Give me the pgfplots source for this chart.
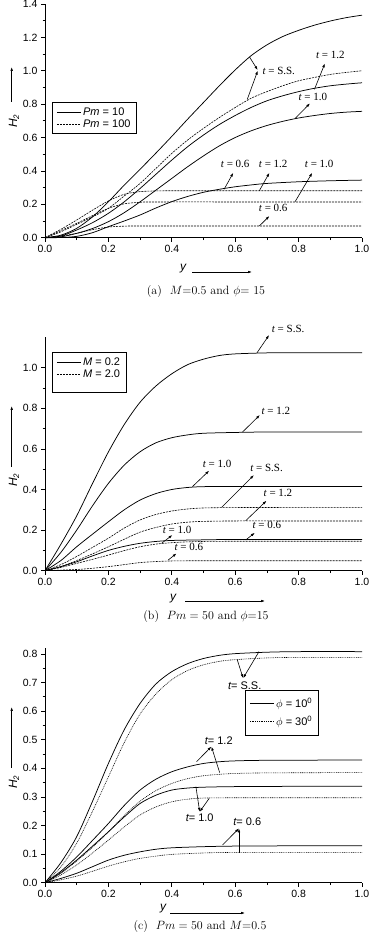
\documentclass[border=0pt]{standalone}
\usepackage{pgfplots}
\pgfplotsset{compat=1.18}
\usepackage{fontspec}
\usetikzlibrary{arrows.meta}
\newfontfamily\arial{Liberation Sans}
\newfontfamily\tms{Liberation Serif}
\pgfplotsset{
  myax/.style={
    scale only axis, width=317pt, xmin=0, xmax=1, ymin=0,
    axis x line=bottom, axis y line=left, axis line style={-, line width=0.8pt},
    tick align=outside, major tick length=4pt, minor tick length=2.5pt,
    tick style={line width=0.7pt, black},
    xtick={0,0.2,0.4,0.6,0.8,1}, minor x tick num=1, minor y tick num=1,
    xticklabel style={/pgf/number format/.cd,fixed,fixed zerofill,precision=1},
    yticklabel style={/pgf/number format/.cd,fixed,fixed zerofill,precision=1},
    ticklabel style={font=\fontsize{10.5}{12}\arial},
    /pgf/number format/assume math mode=true,
    clip=false, anchor=south west,
    legend cell align=left,
    legend style={font=\fontsize{11}{13}\arial, draw=black, line width=0.9pt,
      anchor=north west, inner xsep=4pt, inner ysep=3pt, row sep=-1pt},
    legend image code/.code={\draw[#1, line width=0.7pt] (0pt,0pt) -- (24pt,0pt);},
  },
  sol/.style={black, line width=0.75pt, smooth, no markers, forget plot},
  das/.style={black, line width=0.6pt, smooth, no markers, forget plot, dash pattern=on 2pt off 1pt},
  dot/.style={black, line width=0.6pt, smooth, no markers, forget plot, dash pattern=on 0.9pt off 0.9pt},
}
\tikzset{ar/.style={-{Latex[length=4pt,width=2.6pt]}, line width=0.6pt}}
\newcommand{\tl}[1]{{\fontsize{11}{12}\tms{\itshape t} = #1}}
\newcommand{\ta}[1]{{\fontsize{11}{12}\arial{\itshape t}= #1}}
\begin{document}
\begin{tikzpicture}
\path[use as bounding box] (0pt,0pt) rectangle (368pt,936pt);
% ---------------- (a)
\begin{axis}[myax, at={(45pt,698.3pt)}, height=233.7pt, ymax=1.4,
  ytick={0,0.2,0.4,0.6,0.8,1.0,1.2,1.4},
  legend style={at={(axis description cs:0.022,0.581)}}]
\addlegendimage{black}\addlegendentry{{\itshape Pm} = 10}
\addlegendimage{black, dash pattern=on 2pt off 1pt}\addlegendentry{{\itshape Pm} = 100}
\addplot[sol] coordinates {(0,0)(0.05,0.015)(0.1,0.056)(0.15,0.125)(0.2,0.215)(0.25,0.315)(0.3,0.41)(0.35,0.507)(0.4,0.607)(0.45,0.71)(0.5,0.81)(0.55,0.91)(0.6,1.005)(0.65,1.09)(0.7,1.155)(0.75,1.205)(0.8,1.242)(0.85,1.273)(0.9,1.298)(0.95,1.318)(1.0,1.333)};
\addplot[sol] coordinates {(0,0)(0.05,0.01)(0.1,0.046)(0.15,0.09)(0.2,0.146)(0.25,0.215)(0.3,0.295)(0.35,0.38)(0.4,0.465)(0.45,0.545)(0.5,0.615)(0.55,0.678)(0.6,0.732)(0.65,0.78)(0.7,0.82)(0.75,0.85)(0.8,0.875)(0.85,0.895)(0.9,0.91)(0.95,0.92)(1.0,0.928)};
\addplot[sol] coordinates {(0,0)(0.05,0.005)(0.1,0.026)(0.15,0.055)(0.2,0.096)(0.25,0.15)(0.3,0.215)(0.35,0.285)(0.4,0.355)(0.45,0.425)(0.5,0.49)(0.55,0.55)(0.6,0.60)(0.65,0.64)(0.7,0.672)(0.75,0.697)(0.8,0.717)(0.85,0.732)(0.9,0.744)(0.95,0.752)(1.0,0.757)};
\addplot[sol] coordinates {(0,0)(0.05,0.001)(0.1,0.008)(0.15,0.03)(0.2,0.066)(0.25,0.1)(0.3,0.136)(0.35,0.178)(0.4,0.216)(0.45,0.247)(0.5,0.272)(0.55,0.29)(0.6,0.305)(0.65,0.316)(0.7,0.325)(0.8,0.335)(0.9,0.341)(1.0,0.345)};
\addplot[das] coordinates {(0,0)(0.05,0.035)(0.1,0.08)(0.15,0.125)(0.2,0.176)(0.25,0.25)(0.3,0.325)(0.35,0.415)(0.4,0.505)(0.45,0.585)(0.5,0.655)(0.55,0.72)(0.6,0.78)(0.65,0.835)(0.7,0.875)(0.75,0.91)(0.8,0.94)(0.85,0.96)(0.9,0.978)(0.95,0.99)(1.0,1.0)};
\addplot[das] coordinates {(0,0)(0.05,0.05)(0.1,0.106)(0.15,0.165)(0.2,0.22)(0.25,0.26)(0.3,0.276)(0.35,0.28)(0.4,0.281)(0.7,0.281)(1,0.281)};
\addplot[das] coordinates {(0,0)(0.05,0.042)(0.1,0.086)(0.15,0.132)(0.2,0.176)(0.25,0.203)(0.3,0.212)(0.35,0.214)(0.7,0.214)(1,0.214)};
\addplot[das] coordinates {(0,0)(0.05,0.01)(0.1,0.026)(0.15,0.048)(0.2,0.064)(0.25,0.069)(0.3,0.07)(0.6,0.07)(1,0.07)};
\draw[ar] (axis cs:0.645,1.083) -- (axis cs:0.671,1.004);
\draw[ar] (axis cs:0.638,0.828) -- (axis cs:0.671,1.0);
\node[anchor=west] at (axis cs:0.675,1.0) {\tl{S.S.}};
\draw[ar] (axis cs:0.85,0.889) -- (axis cs:0.883,1.044);
\node at (axis cs:0.9,1.094) {\tl{1.2}};
\draw[ar] (axis cs:0.789,0.714) -- (axis cs:0.836,0.805);
\node at (axis cs:0.845,0.845) {\tl{1.0}};
\draw[ar] (axis cs:0.565,0.29) -- (axis cs:0.594,0.389);
\node at (axis cs:0.6,0.441) {\tl{0.6}};
\draw[ar] (axis cs:0.676,0.281) -- (axis cs:0.708,0.389);
\node at (axis cs:0.72,0.441) {\tl{1.2}};
\draw[ar] (axis cs:0.789,0.216) -- (axis cs:0.843,0.389);
\node at (axis cs:0.865,0.441) {\tl{1.0}};
\draw[ar] (axis cs:0.676,0.07) -- (axis cs:0.708,0.13);
\node at (axis cs:0.72,0.176) {\tl{0.6}};
\end{axis}
\node[font=\fontsize{12}{14}\arial\itshape] at (183pt,667pt) {y};
\draw[-{Latex[length=4pt,width=2.6pt]}, line width=0.6pt] (192pt,664pt) -- (252pt,664pt);
\node[font=\fontsize{12}{14}\arial\itshape, rotate=90] at (14pt,815pt) {H\textsubscript{2}};
\draw[-{Latex[length=4pt,width=2.6pt]}, line width=0.6pt] (11.7pt,834pt) -- (11.7pt,869pt);
\node[font=\fontsize{12}{14}\selectfont] at (206pt,644pt) {(a)~~$M$=0.5 and $\phi$= 15};
% ---------------- (b)
\begin{axis}[myax, at={(45pt,365.3pt)}, height=233.45pt, ymax=1.15,
  ytick={0,0.2,0.4,0.6,0.8,1.0},
  legend style={at={(axis description cs:0.022,0.937)}}]
\addlegendimage{black}\addlegendentry{{\itshape M} = 0.2}
\addlegendimage{black, dash pattern=on 2pt off 1pt}\addlegendentry{{\itshape M} = 2.0}
\addlegendimage{empty legend}\addlegendentry{}
\addlegendimage{empty legend}\addlegendentry{}
\addplot[sol] coordinates {(0,0)(0.05,0.13)(0.1,0.27)(0.15,0.43)(0.2,0.585)(0.25,0.72)(0.3,0.83)(0.35,0.91)(0.4,0.97)(0.45,1.015)(0.5,1.042)(0.55,1.06)(0.6,1.068)(0.7,1.073)(0.8,1.074)(1,1.074)};
\addplot[sol] coordinates {(0,0)(0.05,0.09)(0.1,0.2)(0.15,0.32)(0.2,0.43)(0.25,0.52)(0.3,0.586)(0.35,0.63)(0.4,0.655)(0.45,0.669)(0.5,0.677)(0.6,0.681)(0.7,0.683)(1,0.683)};
\addplot[sol] coordinates {(0,0)(0.05,0.05)(0.1,0.118)(0.15,0.18)(0.2,0.241)(0.25,0.3)(0.3,0.348)(0.35,0.38)(0.4,0.4)(0.45,0.41)(0.5,0.414)(0.6,0.415)(0.8,0.415)(1,0.415)};
\addplot[sol] coordinates {(0,0)(0.05,0.02)(0.1,0.044)(0.15,0.073)(0.2,0.10)(0.25,0.12)(0.3,0.135)(0.35,0.144)(0.4,0.149)(0.5,0.152)(0.6,0.154)(0.8,0.154)(1,0.154)};
\addplot[das] coordinates {(0,0)(0.05,0.03)(0.1,0.07)(0.15,0.115)(0.2,0.16)(0.25,0.21)(0.3,0.25)(0.35,0.277)(0.4,0.294)(0.45,0.304)(0.5,0.309)(0.6,0.311)(0.8,0.311)(1,0.311)};
\addplot[das] coordinates {(0,0)(0.05,0.02)(0.1,0.05)(0.15,0.083)(0.2,0.118)(0.25,0.155)(0.3,0.19)(0.35,0.213)(0.4,0.23)(0.45,0.239)(0.5,0.243)(0.6,0.245)(0.8,0.245)(1,0.245)};
\addplot[das] coordinates {(0,0)(0.05,0.016)(0.1,0.036)(0.15,0.056)(0.2,0.077)(0.25,0.099)(0.3,0.118)(0.35,0.131)(0.4,0.138)(0.45,0.142)(0.5,0.144)(0.6,0.145)(0.8,0.145)(1,0.145)};
\addplot[das] coordinates {(0,0)(0.1,0.006)(0.15,0.012)(0.2,0.02)(0.25,0.03)(0.3,0.04)(0.35,0.045)(0.4,0.048)(0.5,0.049)(0.8,0.049)(1,0.049)};
\draw[ar] (axis cs:0.669,1.074) -- (axis cs:0.707,1.161);
\node at (axis cs:0.767,1.189) {\tl{S.S.}};
\draw[ar] (axis cs:0.623,0.683) -- (axis cs:0.678,0.767);
\node at (axis cs:0.728,0.788) {\tl{1.2}};
\draw[ar] (axis cs:0.465,0.414) -- (axis cs:0.518,0.493);
\node at (axis cs:0.543,0.525) {\tl{1.0}};
\draw[ar] (axis cs:0.557,0.312) -- (axis cs:0.659,0.471);
\node at (axis cs:0.699,0.504) {\tl{S.S.}};
\draw[ar] (axis cs:0.633,0.246) -- (axis cs:0.699,0.345);
\node at (axis cs:0.735,0.381) {\tl{1.2}};
\draw[ar] (axis cs:0.633,0.151) -- (axis cs:0.662,0.187);
\node at (axis cs:0.70,0.225) {\tl{0.6}};
\draw[ar] (axis cs:0.368,0.135) -- (axis cs:0.402,0.176);
\node at (axis cs:0.417,0.2) {\tl{1.0}};
\draw[ar] (axis cs:0.389,0.053) -- (axis cs:0.415,0.085);
\node at (axis cs:0.454,0.115) {\tl{0.6}};
\end{axis}
\node[font=\fontsize{12}{14}\arial\itshape] at (173pt,337pt) {y};
\draw[-{Latex[length=4pt,width=2.6pt]}, line width=0.6pt] (185pt,335pt) -- (265pt,335pt);
\node[font=\fontsize{12}{14}\arial\itshape, rotate=90] at (14pt,456pt) {H\textsubscript{2}};
\draw[-{Latex[length=4pt,width=2.6pt]}, line width=0.6pt] (11.7pt,469pt) -- (11.7pt,530pt);
\node[font=\fontsize{12}{14}\selectfont] at (206pt,319pt) {(b)~~$Pm=50$ and $\phi$=15};
% ---------------- (c)
\begin{axis}[myax, at={(45pt,53.3pt)}, height=234.5pt, ymax=0.82,
  ytick={0,0.1,0.2,0.3,0.4,0.5,0.6,0.7,0.8},
  legend style={at={(axis description cs:0.631,0.822)}, inner ysep=6pt, row sep=3pt}]
\addlegendimage{black}\addlegendentry{$\phi$ = 10\textsuperscript{0}}
\addlegendimage{black, dash pattern=on 0.9pt off 0.9pt}\addlegendentry{$\phi$ = 30\textsuperscript{0}}
\addplot[sol] coordinates {(0,0)(0.05,0.07)(0.1,0.161)(0.15,0.285)(0.2,0.417)(0.25,0.535)(0.3,0.627)(0.35,0.695)(0.4,0.738)(0.45,0.766)(0.5,0.784)(0.55,0.795)(0.6,0.801)(0.7,0.806)(0.8,0.808)(1,0.808)};
\addplot[dot] coordinates {(0,0)(0.05,0.055)(0.1,0.138)(0.15,0.25)(0.2,0.37)(0.25,0.49)(0.3,0.59)(0.35,0.66)(0.4,0.71)(0.45,0.742)(0.5,0.762)(0.55,0.774)(0.6,0.78)(0.7,0.786)(0.8,0.788)(1,0.788)};
\addplot[sol] coordinates {(0,0)(0.05,0.04)(0.1,0.09)(0.15,0.148)(0.2,0.207)(0.25,0.27)(0.3,0.324)(0.35,0.362)(0.4,0.388)(0.45,0.405)(0.5,0.417)(0.55,0.423)(0.6,0.426)(0.7,0.428)(1,0.429)};
\addplot[dot] coordinates {(0,0)(0.05,0.033)(0.1,0.076)(0.15,0.124)(0.2,0.178)(0.25,0.235)(0.3,0.285)(0.35,0.322)(0.4,0.347)(0.45,0.364)(0.5,0.374)(0.55,0.379)(0.6,0.382)(0.7,0.384)(1,0.385)};
\addplot[sol] coordinates {(0,0)(0.05,0.035)(0.1,0.079)(0.15,0.128)(0.2,0.178)(0.25,0.23)(0.3,0.277)(0.35,0.306)(0.4,0.324)(0.45,0.331)(0.5,0.334)(0.6,0.336)(0.8,0.337)(1,0.337)};
\addplot[dot] coordinates {(0,0)(0.05,0.027)(0.1,0.062)(0.15,0.104)(0.2,0.149)(0.25,0.195)(0.3,0.237)(0.35,0.265)(0.4,0.283)(0.45,0.292)(0.5,0.296)(0.6,0.297)(0.8,0.297)(1,0.297)};
\addplot[sol] coordinates {(0,0)(0.05,0.015)(0.1,0.033)(0.15,0.056)(0.2,0.079)(0.25,0.096)(0.3,0.108)(0.35,0.117)(0.4,0.122)(0.5,0.126)(0.6,0.128)(0.8,0.129)(1,0.129)};
\addplot[dot] coordinates {(0,0)(0.05,0.01)(0.1,0.023)(0.15,0.04)(0.2,0.058)(0.25,0.073)(0.3,0.085)(0.35,0.093)(0.4,0.099)(0.5,0.104)(0.6,0.106)(0.8,0.106)(1,0.106)};
\draw[ar] (axis cs:0.606,0.781) -- (axis cs:0.625,0.715);
\draw[ar] (axis cs:0.675,0.808) -- (axis cs:0.625,0.715);
\node at (axis cs:0.63,0.69) {\ta{S.S.}};
\draw[ar] (axis cs:0.478,0.423) -- (axis cs:0.525,0.476);
\draw[ar] (axis cs:0.551,0.385) -- (axis cs:0.525,0.476);
\node at (axis cs:0.548,0.497) {\ta{1.2}};
\draw[ar] (axis cs:0.476,0.336) -- (axis cs:0.488,0.248);
\draw[ar] (axis cs:0.518,0.295) -- (axis cs:0.488,0.248);
\node at (axis cs:0.488,0.228) {\ta{1.0}};
\draw[ar] (axis cs:0.56,0.132) -- (axis cs:0.612,0.19);
\draw[ar] (axis cs:0.612,0.105) -- (axis cs:0.612,0.19);
\node at (axis cs:0.638,0.215) {\ta{0.6}};
\end{axis}
\node[font=\fontsize{12}{14}\arial\itshape] at (163pt,27pt) {y};
\draw[-{Latex[length=4pt,width=2.6pt]}, line width=0.6pt] (170pt,23pt) -- (245pt,23pt);
\node[font=\fontsize{12}{14}\arial\itshape, rotate=90] at (14pt,154pt) {H\textsubscript{2}};
\draw[-{Latex[length=4pt,width=2.6pt]}, line width=0.6pt] (11.7pt,168pt) -- (11.7pt,229pt);
\node[font=\fontsize{12}{14}\selectfont] at (200pt,9pt) {(c)~~$Pm=50$ and $M$=0.5};
\end{tikzpicture}
\end{document}
